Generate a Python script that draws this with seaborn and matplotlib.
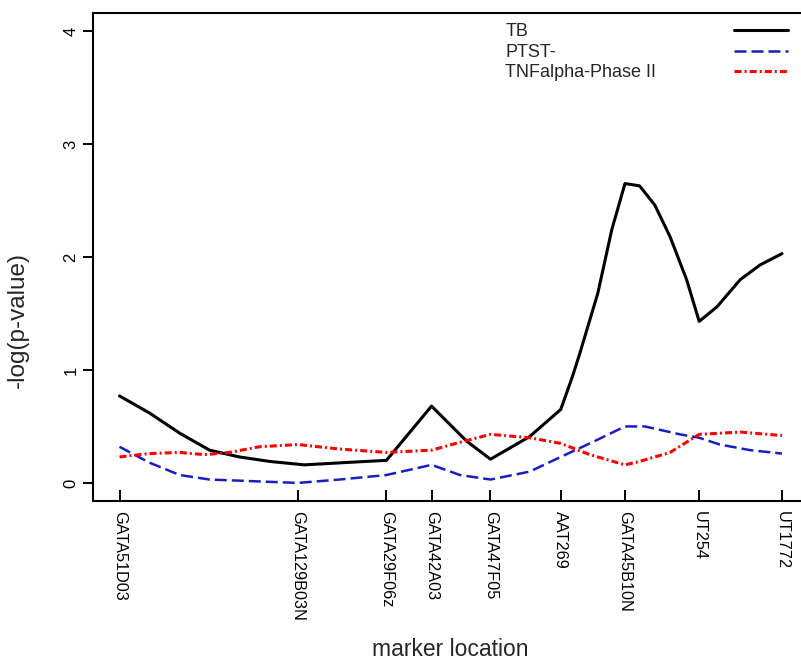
"""
Linkage scan: -log(p-value) along the chromosome for three phenotypes.
"""

import pandas as pd
import matplotlib
matplotlib.use("Agg")
import matplotlib.pyplot as plt
import seaborn as sns

# marker positions (cM, relative) and names
markers = ["GATA51D03", "GATA129B03N", "GATA29F06z", "GATA42A03", "GATA47F05",
           "AAT269", "GATA45B10N", "UT254", "UT1772"]
marker_pos = [0.0, 26.9, 40.3, 47.1, 56.0, 66.6, 76.3, 87.5, 100.0]

# TB
tb_pos = [0.0, 4.5, 9.1, 13.6, 18.1, 22.7, 27.9, 34.0, 40.3, 47.1, 52.4, 56.0,
          61.9, 66.6, 68.3, 69.5, 72.2, 74.3, 76.3, 78.5, 80.8, 83.1, 85.6,
          87.5, 90.2, 93.7, 96.7, 100.0]
tb_val = [0.77, 0.62, 0.44, 0.29, 0.23, 0.19, 0.16, 0.18, 0.20, 0.68, 0.37, 0.21,
          0.41, 0.65, 0.93, 1.15, 1.68, 2.24, 2.65, 2.63, 2.46, 2.18, 1.80,
          1.43, 1.56, 1.80, 1.93, 2.03]

# PTST-
ptst_pos = [0.0, 4.5, 9.1, 13.6, 18.1, 26.9, 33.2, 40.3, 47.1, 51.4, 56.0,
            61.9, 66.6, 71.0, 76.3, 79.3, 84.6, 87.5, 90.6, 95.2, 100.0]
ptst_val = [0.32, 0.18, 0.07, 0.03, 0.02, 0.00, 0.03, 0.07, 0.16, 0.07, 0.03,
            0.10, 0.23, 0.35, 0.50, 0.50, 0.43, 0.40, 0.34, 0.29, 0.26]

# TNFalpha-Phase II
tnf_pos = [0.0, 4.5, 9.1, 12.8, 16.6, 21.1, 26.9, 33.2, 40.3, 47.1, 51.4,
           56.0, 61.9, 66.6, 71.0, 76.3, 78.5, 83.1, 87.5, 93.7, 100.0]
tnf_val = [0.23, 0.26, 0.27, 0.25, 0.27, 0.32, 0.34, 0.30, 0.27, 0.29, 0.36,
           0.43, 0.40, 0.35, 0.25, 0.16, 0.19, 0.27, 0.43, 0.45, 0.42]

y_ticks = [0, 1, 2, 3, 4]

sns.set_theme(style="ticks")
plt.rcParams["font.family"] = ["Liberation Sans", "DejaVu Sans"]

fig = plt.figure(figsize=(8.01, 6.6), dpi=100)
# axes run slightly past the right edge, like the cropped original
ax = fig.add_axes([93 / 801, 1 - 501 / 660, 715.5 / 801, 488 / 660])

tb = pd.DataFrame({"pos": tb_pos, "val": tb_val})
ptst = pd.DataFrame({"pos": ptst_pos, "val": ptst_val})
tnf = pd.DataFrame({"pos": tnf_pos, "val": tnf_val})

sns.lineplot(data=tb, x="pos", y="val", ax=ax, color="black", lw=2.2,
             legend=False, label="TB")
sns.lineplot(data=ptst, x="pos", y="val", ax=ax, color="#1c1cc4", lw=1.8,
             dashes=False, legend=False, label="PTST-")
sns.lineplot(data=tnf, x="pos", y="val", ax=ax, color="#ff0000", lw=2.2,
             dashes=False, legend=False, label="TNFalpha-Phase II")
lines = ax.get_lines()
lines[1].set_dashes([4.8, 2.0])
lines[2].set_dashes([2.3, 1.0, 0.65, 1.0])

ax.set_xlim(-4, 104)
ax.set_ylim(-0.16, 4.16)
ax.set_xticks(marker_pos)
ax.set_xticklabels(markers, rotation=270, fontsize=11.7)
ax.set_yticks(y_ticks)
ax.set_yticklabels([str(t) for t in y_ticks], rotation=90, fontsize=12, va="center")

for s in ["left", "top", "bottom"]:
    ax.spines[s].set_linewidth(1.5)
    ax.spines[s].set_color("black")
ax.spines["right"].set_visible(False)
ax.tick_params(axis="x", direction="in", length=8, width=1.4, pad=7.5, colors="black")
ax.tick_params(axis="y", direction="out", length=7.2, width=1.4, pad=3.3, colors="black")
ax.grid(False)

ax.set_xlabel("marker location", fontsize=16.5)
ax.set_ylabel("-log(p-value)", fontsize=17.5)
ax.xaxis.set_label_coords(0.5, (501 - 649) / 488)
ax.xaxis.label.set_va("center")
ax.yaxis.set_label_coords((18 - 93) / 715.5, (501 - 320) / 488)
ax.yaxis.label.set_va("center")

# legend: labels on the left, line samples far right
handles = lines[:3]
names = ["TB", "PTST-", "TNFalpha-Phase II"]
leg_text = ax.legend(handles, names, loc="upper left", frameon=False,
                     bbox_to_anchor=(0.576, 0.979), borderpad=0, borderaxespad=0,
                     handlelength=0, handletextpad=0, labelspacing=0.2,
                     fontsize=13)
for h in leg_text.legend_handles:
    h.set_visible(False)
ax.add_artist(leg_text)
ax.legend(handles, ["", "", ""], loc="upper right", frameon=False,
          bbox_to_anchor=(0.971, 0.979), borderpad=0, borderaxespad=0,
          handlelength=3.0, handletextpad=0, labelspacing=0.2, fontsize=13)

fig.savefig("out.png", dpi=100)
